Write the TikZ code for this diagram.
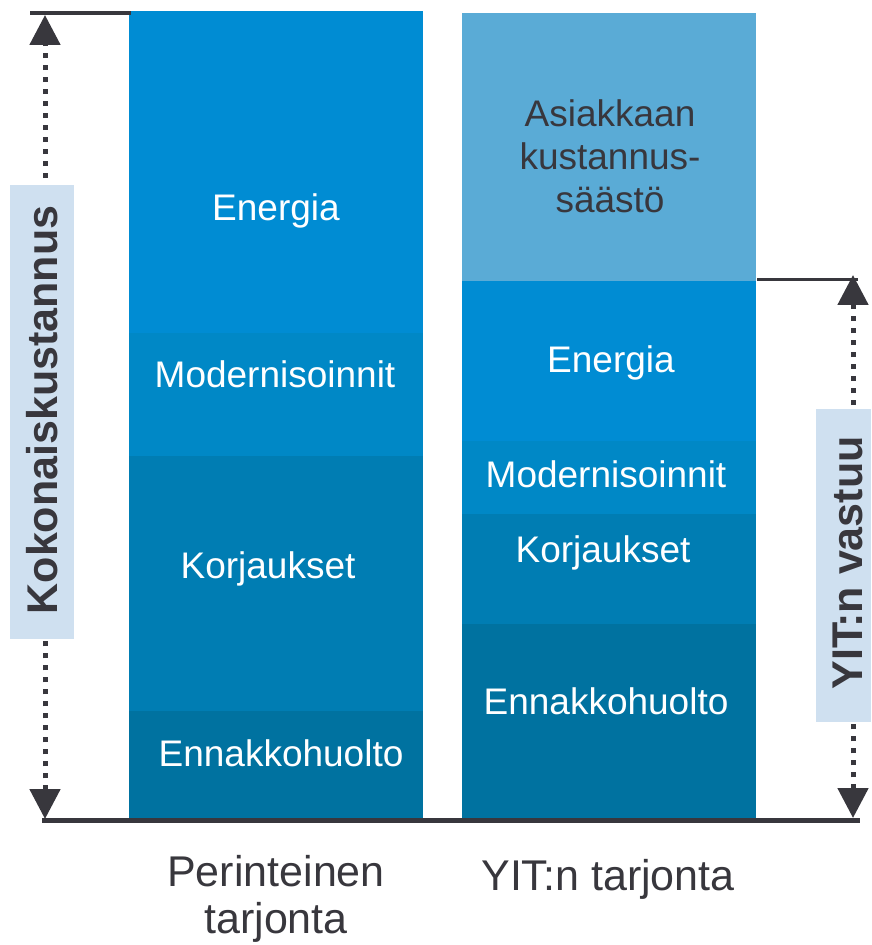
\documentclass[tikz,border=0pt]{standalone}
\usepackage{fontspec}
\setmainfont{Liberation Sans}
\usetikzlibrary{arrows.meta}
\definecolor{energia}{RGB}{0,140,211}
\definecolor{modern}{RGB}{0,136,198}
\definecolor{korjaus}{RGB}{0,125,179}
\definecolor{ennakko}{RGB}{0,114,160}
\definecolor{saasto}{RGB}{90,171,214}
\definecolor{labelbg}{RGB}{207,224,240}
\definecolor{inkgray}{RGB}{56,55,61}
\begin{document}
\begin{tikzpicture}[x=0.5pt, y=-0.5pt,
    segtext/.style ={text=white, font=\fontsize{18.5}{21.5}\selectfont, align=center},
    bartext/.style ={text=inkgray, font=\fontsize{21.5}{23.5}\selectfont, align=center},
    tag/.style ={rotate=90, text=inkgray, font=\bfseries\fontsize{21.5}{26}\selectfont},
    rule/.style ={line width=2.2pt, inkgray},
    span/.style ={line width=2.5pt, inkgray, dash pattern=on 2.5pt off 3.5pt,
      {Triangle[length=15pt,width=15pt]}-{Triangle[length=15pt,width=15pt]}}]
   \useasboundingbox (0,0) rectangle (871,945);
   % perinteinen tarjonta
   \fill[energia] (129,11) rectangle (423,333);
   \fill[modern]  (129,333) rectangle (423,456);
   \fill[korjaus] (129,456) rectangle (423,711);
   \fill[ennakko] (129,711) rectangle (423,818);
   % YIT:n tarjonta
   \fill[saasto]  (462,13) rectangle (756,281);
   \fill[energia] (462,281) rectangle (756,441);
   \fill[modern]  (462,441) rectangle (756,514);
   \fill[korjaus] (462,514) rectangle (756,624);
   \fill[ennakko] (462,624) rectangle (756,818);
   \node[segtext] (pEn) at (276,211) {Energia};
   \node[segtext] (pMo) at (275,374) {Modernisoinnit};
   \node[segtext] (pKo) at (268,569) {Korjaukset};
   \node[segtext] (pEh) at (281,753) {Ennakkohuolto};
   \node[segtext, text=inkgray] (ySa) at (610,156) {Asiakkaan\\kustannus-\\säästö};
   \node[segtext] (yEn) at (611,363) {Energia};
   \node[segtext] (yMo) at (606,474) {Modernisoinnit};
   \node[segtext] (yKo) at (603,553) {Korjaukset};
   \node[segtext] (yEh) at (606,701) {Ennakkohuolto};
   \node[bartext] (pLab) at (276,899) {Perinteinen\\tarjonta};
   \node[bartext] (yLab) at (608,879) {YIT:n tarjonta};
   % mittaviivat
   \coordinate (topL) at (30,13);
   \coordinate (topR) at (131,13);
   \coordinate (baseL) at (42,820);
   \coordinate (baseR) at (860,820);
   \coordinate (vastL) at (757,279.5);
   \coordinate (vastR) at (858,279.5);
   \coordinate (kokTop) at (45,15);
   \coordinate (kokBot) at (45,819);
   \coordinate (vasTop) at (853,275);
   \coordinate (vasBot) at (853,818);
   \draw[rule] (topL) -- (topR);
   \draw[rule, line width=2.5pt] (baseL) -- (baseR);
   \draw[rule, line width=1.6pt] (vastL) -- (vastR);
   \draw[span] (kokBot) -- (kokTop);
   \draw[span] (vasBot) -- (vasTop);
   \fill[labelbg] (10,185) rectangle (74,639);
   \fill[labelbg] (816,409) rectangle (871,722);
   \node[tag] (kok) at (42.5,410) {Kokonaiskustannus};
   \node[tag] (vas) at (848,563) {YIT:n vastuu};
 \end{tikzpicture}
\end{document}
